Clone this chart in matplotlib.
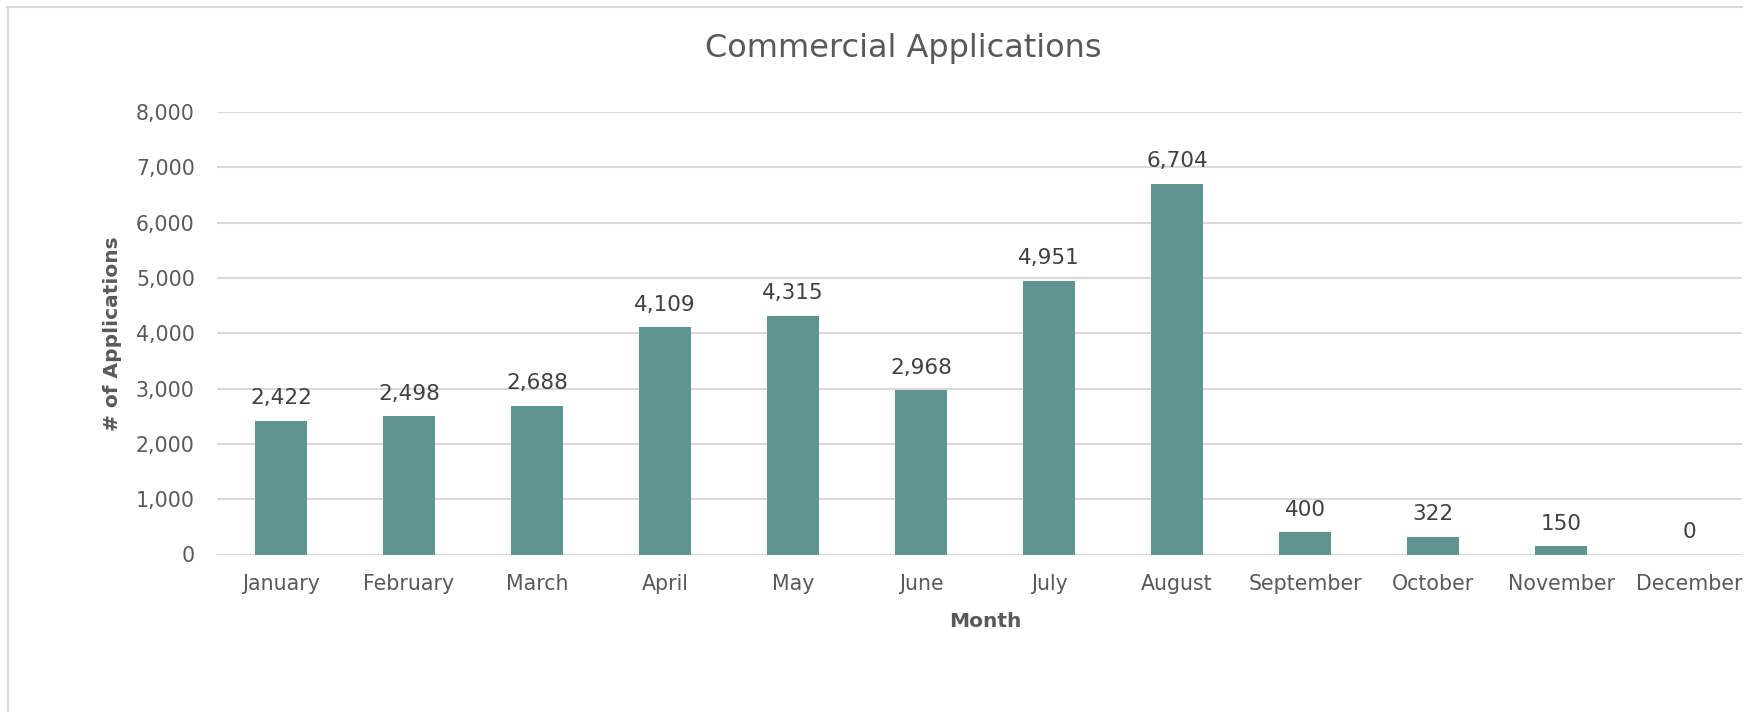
import matplotlib
matplotlib.use("Agg")
import matplotlib.pyplot as plt
from matplotlib.lines import Line2D
from matplotlib.ticker import FuncFormatter

# ----------------------------------
# Data
# ----------------------------------
months = ["January", "February", "March", "April", "May", "June",
          "July", "August", "September", "October", "November", "December"]
applications = [2422, 2498, 2688, 4109, 4315, 2968, 4951, 6704, 400, 322, 150, 0]
y_ticks = [0, 1000, 2000, 3000, 4000, 5000, 6000, 7000, 8000]

BAR_COLOR   = "#5f9490"
GRID_COLOR  = "#d9d9d9"
TEXT_COLOR  = "#595959"
LABEL_COLOR = "#404040"

plt.rcParams["font.family"] = ["DejaVu Sans"]

W, H = 1760, 712
fig = plt.figure(figsize=(W / 100, H / 100), dpi=100)
fig.patch.set_facecolor("white")

# axes placed in pixel terms
left, right, bottom_px, top_px = 217, 1742, 554.5, 112
ax = fig.add_axes([left / W, 1 - bottom_px / H, (right - left) / W, (bottom_px - top_px) / H])

x = list(range(len(months)))
ax.bar(x, applications, width=0.4, color=BAR_COLOR, zorder=3)

for xi, v in zip(x, applications):
    ax.annotate(f"{v:,}", (xi, v), xytext=(0, 9), textcoords="offset points",
                ha="center", va="bottom", fontsize=15.5, color=LABEL_COLOR)

ax.set_xlim(-0.5, 11.5 - 11 / 128)
ax.set_ylim(0, 8000)
ax.set_xticks(x)
ax.set_xticklabels(months)
ax.set_yticks(y_ticks)
ax.yaxis.set_major_formatter(FuncFormatter(lambda v, _: f"{int(v):,}"))

ax.tick_params(axis="both", length=0, labelsize=14.8, labelcolor=TEXT_COLOR)
ax.tick_params(axis="x", pad=14)
ax.tick_params(axis="y", pad=16)

ax.grid(axis="y", color=GRID_COLOR, linewidth=1.5, zorder=0)
ax.set_axisbelow(True)
for s in ax.spines.values():
    s.set_visible(False)

ax.set_ylabel("# of Applications", fontsize=14.5, fontweight="bold", color=TEXT_COLOR)
ax.yaxis.set_label_coords((122 - left) / (right - left), 0.5)
ax.set_xlabel("Month", fontsize=14.5, fontweight="bold", color=TEXT_COLOR)
ax.xaxis.set_label_coords((985 - left) / (right - left), (bottom_px - 612) / (bottom_px - top_px))

fig.text(903 / W, 1 - 49 / H, "Commercial Applications", ha="center", va="center",
         fontsize=23, color=TEXT_COLOR)

# chart frame (top and left edges)
fig.add_artist(Line2D([7 / W, 1742 / W], [1 - 6.5 / H, 1 - 6.5 / H],
                      transform=fig.transFigure, color=GRID_COLOR, linewidth=1.5))
fig.add_artist(Line2D([7.5 / W, 7.5 / W], [0, 1 - 6.5 / H],
                      transform=fig.transFigure, color=GRID_COLOR, linewidth=1.5))

fig.savefig("out.png", dpi=100)
